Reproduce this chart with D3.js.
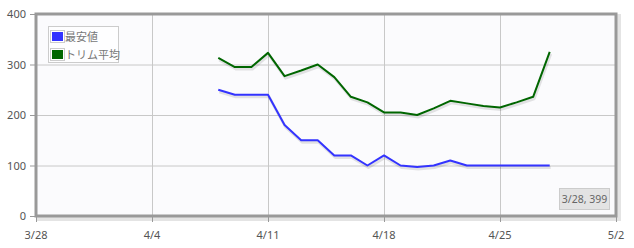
<!DOCTYPE html>
<html><head><meta charset="utf-8">
<script src="https://cdn.jsdelivr.net/npm/d3@7"></script>
<style>
html,body{margin:0;padding:0;background:#fff;}
svg{display:block;}
text{font-family:"Noto Sans","Noto Sans CJK JP",sans-serif;}
</style></head>
<body><svg id="c" width="634" height="248"></svg>
<script>
const dates = ["2014-04-08","2014-04-09","2014-04-10","2014-04-11","2014-04-12","2014-04-13","2014-04-14","2014-04-15","2014-04-16","2014-04-17","2014-04-18","2014-04-19","2014-04-20","2014-04-21","2014-04-22","2014-04-23","2014-04-24","2014-04-25","2014-04-26","2014-04-27","2014-04-28"];
const minPrice = [250,240,240,240,180,150,150,120,120,100,120,100,97,100,110,100,100,100,100,100,100];
const trimAvg = [313,295,295,323,277,288,300,275,236,225,205,205,200,213,228,223,218,215,225,236,325];
const seriesNames = ["最安値","トリム平均"];
const seriesColors = ["#3333ff","#006600"];
const xTickDates = ["2014-03-28","2014-04-04","2014-04-11","2014-04-18","2014-04-25","2014-05-02"];
const xTickLabels = ["3/28","4/4","4/11","4/18","4/25","5/2"];
const yTicks = [0,100,200,300,400];

const parse = d3.timeParse("%Y-%m-%d");
const svg = d3.select("#c");
const L=36, R=616, T=14, B=216;
const x = d3.scaleTime().domain([parse("2014-03-28"), parse("2014-05-02")]).range([L,R]);
const y = d3.scaleLinear().domain([0,400]).range([B,T]);

// shadow of frame
svg.append("rect").attr("x",L+2).attr("y",T+2).attr("width",R-L+1).attr("height",B-T+1)
  .attr("fill","none").attr("stroke","#e4e4e4").attr("stroke-width",4);
// plot background
svg.append("rect").attr("x",L).attr("y",T).attr("width",R-L).attr("height",B-T).attr("fill","#fbfbfd");

// grid
svg.append("g").selectAll("line").data(yTicks.slice(1,-1)).join("line")
  .attr("x1",L).attr("x2",R).attr("y1",d=>y(d)+0.5).attr("y2",d=>y(d)+0.5)
  .attr("stroke","#c8c8c8").attr("stroke-width",1);
svg.append("g").selectAll("line").data(xTickDates.slice(1,-1)).join("line")
  .attr("y1",T).attr("y2",B).attr("x1",d=>Math.round(x(parse(d)))+0.5).attr("x2",d=>Math.round(x(parse(d)))+0.5)
  .attr("stroke","#c8c8c8").attr("stroke-width",1);

// frame
svg.append("rect").attr("x",L).attr("y",T).attr("width",R-L).attr("height",B-T)
  .attr("fill","none").attr("stroke","#999").attr("stroke-width",3);

// tick marks
svg.append("g").selectAll("line").data(yTicks).join("line")
  .attr("x1",L-6).attr("x2",L).attr("y1",d=>y(d)+0.5).attr("y2",d=>y(d)+0.5)
  .attr("stroke","#999").attr("stroke-width",1);
svg.append("g").selectAll("line").data(xTickDates).join("line")
  .attr("y1",B).attr("y2",B+6).attr("x1",d=>Math.round(x(parse(d)))+0.5).attr("x2",d=>Math.round(x(parse(d)))+0.5)
  .attr("stroke","#999").attr("stroke-width",1);

// tick labels
svg.append("g").selectAll("text").data(yTicks).join("text")
  .attr("x",L-10).attr("y",d=>y(d)+4).attr("text-anchor","end")
  .attr("font-size",11).attr("fill","#545454").text(d=>d);
svg.append("g").selectAll("text").data(xTickDates).join("text")
  .attr("x",d=>x(parse(d))).attr("y",B+23).attr("text-anchor","middle")
  .attr("font-size",11).attr("fill","#545454").text((d,i)=>xTickLabels[i]);

// lines
const data = [minPrice, trimAvg];
const line = d3.line().x((d,i)=>x(parse(dates[i]))).y(d=>y(d));
data.forEach((s,k)=>{
  svg.append("path").attr("d",line(s)).attr("fill","none").attr("stroke","#000").attr("stroke-opacity",0.1)
    .attr("stroke-width",3).attr("transform","translate(1,2)").attr("stroke-linejoin","round");
  svg.append("path").attr("d",line(s)).attr("fill","none").attr("stroke",seriesColors[k])
    .attr("stroke-width",2).attr("stroke-linejoin","round");
});

// legend
const lg = svg.append("g");
lg.append("rect").attr("x",48.5).attr("y",26.5).attr("width",70).attr("height",36)
  .attr("fill","#fff").attr("fill-opacity",0.7).attr("stroke","#ccc");
seriesNames.forEach((n,i)=>{
  const yy = 30 + i*18;
  lg.append("rect").attr("x",50.5).attr("y",yy+0.5).attr("width",14).attr("height",12).attr("fill","#fff").attr("stroke","#ccc");
  lg.append("rect").attr("x",52).attr("y",yy+2).attr("width",11).attr("height",9).attr("fill",seriesColors[i]);
  lg.append("text").attr("x",65).attr("y",yy+11).attr("font-size",11).attr("fill","#777").text(n);
});

// tooltip
svg.append("rect").attr("x",559.5).attr("y",188.5).attr("width",50).attr("height",21)
  .attr("fill","#e0e0e0").attr("fill-opacity",0.9).attr("stroke","#ccc");
svg.append("text").attr("x",584.5).attr("y",203).attr("text-anchor","middle").attr("font-size",10.5)
  .attr("fill","#666").text(xTickLabels[0]+", 399");
</script></body></html>
